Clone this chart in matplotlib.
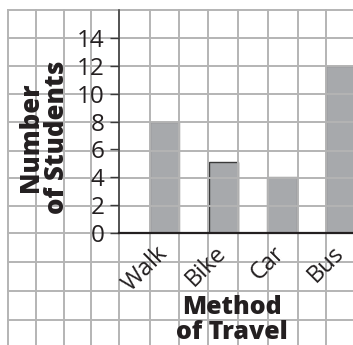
import matplotlib
matplotlib.use("Agg")
import matplotlib.pyplot as plt
from matplotlib.lines import Line2D
from matplotlib.transforms import Affine2D, ScaledTranslation

# ---- data ----
methods = ["Walk", "Bike", "Car", "Bus"]
students = [8, 5.1, 4, 12]
y_ticks = [0, 2, 4, 6, 8, 10, 12, 14]

plt.rcParams["font.family"] = ["Open Sans", "DejaVu Sans"]
TXT = "#231f20"
W, H = 353, 345

fig = plt.figure(figsize=(W / 100, H / 100), dpi=100)
fig.patch.set_facecolor("white")

# chart axes placed on the graph paper
ax = fig.add_axes([119 / W, (H - 233) / H, (W - 119) / W, (233 - 10) / H])
ax.set_facecolor("none")

x = list(range(len(methods)))
edge_cols = ["#8a8a8a", "#3a3a3a", "#8a8a8a", "#8a8a8a"]
ax.bar(x, students, width=0.5, color="#a7a9ac", edgecolor=edge_cols,
       linewidth=1.0, zorder=1)

ax.set_xlim(-0.775, 3.211)
ax.set_ylim(0, 16.01)

# graph-paper grid, in pixel coordinates of the picture
pix = Affine2D().scale(1 / W, -1 / H).translate(0, 1) + fig.transFigure
grid_x = [8, 36, 64, 91, 119, 150, 179, 208, 238, 268, 298, 326]
grid_y = [10, 38, 66, 94, 122, 151, 178, 206, 233, 262, 291, 320]
gcol = "#b4b4b4"
for gx in grid_x:
    ax.add_artist(Line2D([gx, gx], [10, H + 5], transform=pix, color=gcol,
                         lw=1.4, clip_on=False, zorder=1.5))
for gy in grid_y:
    ax.add_artist(Line2D([8, W + 5], [gy, gy], transform=pix, color=gcol,
                         lw=1.4, clip_on=False, zorder=1.5))

# spines
for s in ("top", "right"):
    ax.spines[s].set_visible(False)
ax.spines["left"].set_color("#3a3a3a")
ax.spines["left"].set_linewidth(1.1)
ax.spines["bottom"].set_color(TXT)
ax.spines["bottom"].set_linewidth(1.6)

# y ticks
ax.set_yticks(y_ticks)
ax.set_yticklabels([str(v) for v in y_ticks])
ax.tick_params(axis="y", direction="out", length=6.5, width=1.0,
               color="#3a3a3a", labelsize=17.5, labelcolor=TXT, pad=4)

# x ticks
ax.set_xticks(x)
ax.set_xticklabels(methods, rotation=45, ha="right")
ax.tick_params(axis="x", length=0, labelsize=17, labelcolor=TXT, pad=6)
off = ScaledTranslation(8 / 100, 0, fig.dpi_scale_trans)
for lab in ax.get_xticklabels():
    lab.set_transform(lab.get_transform() + off)

# axis titles
fig.text(44 / W, 1 - 137 / H, "Number\nof Students", rotation=90,
         ha="center", va="center", multialignment="center",
         fontsize=18.5, fontweight=800, color=TXT, linespacing=0.98)
fig.text(232 / W, 1 - 320 / H, "Method\nof Travel",
         ha="center", va="center", multialignment="center",
         fontsize=18, fontweight=800, color=TXT, linespacing=0.98)

fig.savefig("out.png", dpi=100, facecolor="white")
